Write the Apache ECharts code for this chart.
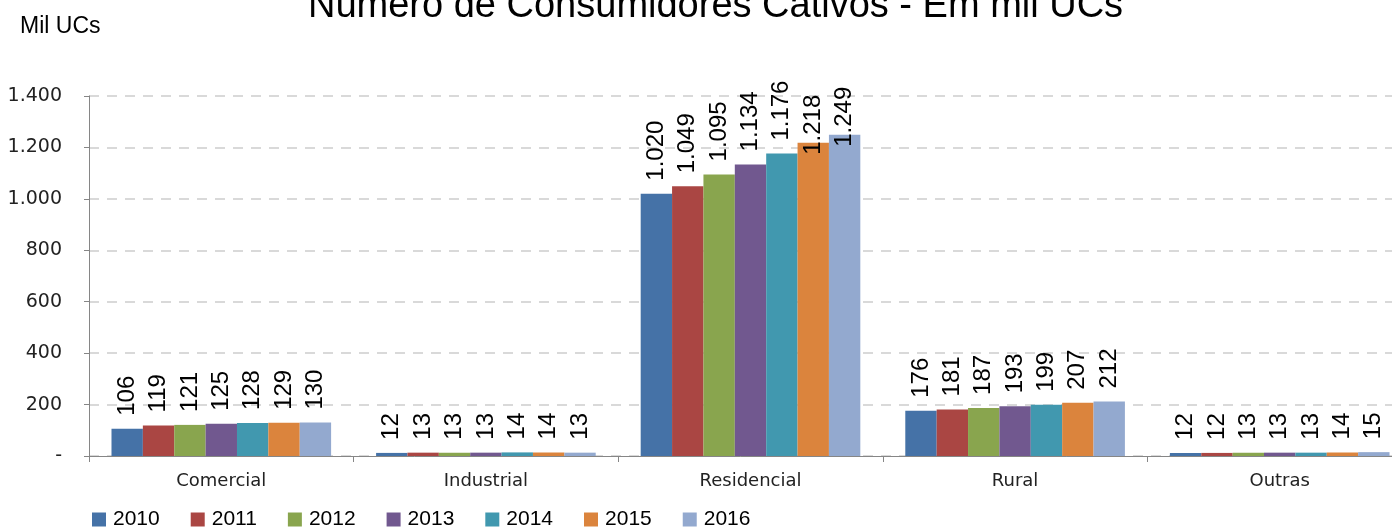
<!DOCTYPE html>
<html>
<head>
<meta charset="utf-8">
<script src="https://cdn.jsdelivr.net/npm/echarts@6/dist/echarts.min.js"></script>
<style>
html,body{margin:0;padding:0;background:#fff;}
#main{width:1392px;height:530px;}
</style>
</head>
<body>
<div id="main"></div>
<script>
var categorias = ['Comercial', 'Industrial', 'Residencial', 'Rural', 'Outras'];
var anos = ['2010', '2011', '2012', '2013', '2014', '2015', '2016'];
// valores por ano, na ordem das categorias
var v2010 = [106, 12, 1020, 176, 12];
var v2011 = [119, 13, 1049, 181, 12];
var v2012 = [121, 13, 1095, 187, 13];
var v2013 = [125, 13, 1134, 193, 13];
var v2014 = [128, 14, 1176, 199, 13];
var v2015 = [129, 14, 1218, 207, 14];
var v2016 = [130, 13, 1249, 212, 15];
var valores = [v2010, v2011, v2012, v2013, v2014, v2015, v2016];
var cores = ['#4572A7', '#AA4643', '#89A54E', '#71588F', '#4198AF', '#DB843D', '#93A9CF'];

function fmt(n) {
	return String(n).replace(/\B(?=(\d{3})+(?!\d))/g, '.');
}

var ec_main = echarts.init(document.getElementById('main'));

var series = anos.map(function (ano, i) {
	return {
		name: ano,
		type: 'bar',
		barGap: 0,
		barCategoryGap: '17%',
		itemStyle: { color: cores[i] },
		data: valores[i].map(function (v) {
			var item = { value: v };
			// rótulos que passariam do topo ficam puxados para dentro
			if (v > 1200) {
				item.label = { position: ['50%', 12] };
			}
			return item;
		}),
		label: {
			show: true,
			position: 'top',
			rotate: 90,
			align: 'left',
			verticalAlign: 'middle',
			distance: 13,
			fontFamily: 'Liberation Sans',
			fontSize: 24,
			color: '#000',
			formatter: function (p) { return fmt(p.value); }
		}
	};
});

var ec_main_option = {
	animation: false,
	textStyle: { fontFamily: 'Liberation Sans' },
	title: {
		text: 'Número de Consumidores Cativos - Em mil UCs',
		left: 303,
		top: -17,
		textStyle: { fontFamily: 'Liberation Sans', fontSize: 38, fontWeight: 'normal', color: '#000' }
	},
	graphic: [{
		type: 'text',
		left: 20,
		top: 15,
		style: { text: 'Mil UCs', font: '23px "Liberation Sans"', fill: '#000' }
	}],
	legend: {
		data: anos,
		left: 87,
		bottom: -5,
		itemWidth: 14,
		itemHeight: 14,
		itemGap: 31,
		icon: 'rect',
		textStyle: { fontSize: 21, color: '#000', padding: [0, 0, 0, 2] }
	},
	grid: {
		left: 89,
		width: 1323,
		top: 96,
		bottom: 74,
		containLabel: false,
		outerBoundsMode: 'none'
	},
	xAxis: {
		type: 'category',
		data: categorias,
		axisLine: { lineStyle: { color: '#868686', width: 1 } },
		axisTick: { show: true, length: 6, lineStyle: { color: '#868686' } },
		axisLabel: { fontFamily: 'DejaVu Sans', fontSize: 18, color: '#222', margin: 16 }
	},
	yAxis: {
		type: 'value',
		min: 0,
		max: 1400,
		interval: 200,
		axisLine: { show: true, lineStyle: { color: '#868686' } },
		axisTick: { show: true, length: 5, lineStyle: { color: '#868686' } },
		axisLabel: {
			fontFamily: 'DejaVu Sans',
			fontSize: 19,
			color: '#222',
			margin: 27,
			formatter: function (v) { return v === 0 ? '-' : fmt(v); }
		},
		splitLine: { lineStyle: { color: '#d9d9d9', type: [10, 8], width: 2 } }
	},
	series: series
};
ec_main.setOption(ec_main_option);
</script>
</body>
</html>
